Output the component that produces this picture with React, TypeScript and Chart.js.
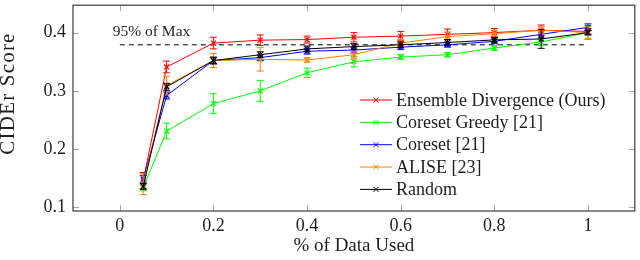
import React, { useEffect, useRef } from "react";
import { Chart, registerables } from "chart.js";

Chart.register(...registerables);

const fractions = [0.05, 0.1, 0.2, 0.3, 0.4, 0.5, 0.6, 0.7, 0.8, 0.9, 1.0];

const seriesNames = [
  "Ensemble Divergence (Ours)",
  "Coreset Greedy [21]",
  "Coreset [21]",
  "ALISE [23]",
  "Random",
];
const seriesColors = ["#ff0000", "#00ff00", "#0000ff", "#ff8000", "#000000"];

const ensembleDivergence = [0.146, 0.341, 0.382, 0.387, 0.388, 0.392, 0.394, 0.397, 0.4, 0.404, 0.402];
const ensembleDivergenceErr = [0.014, 0.01, 0.01, 0.009, 0.006, 0.008, 0.008, 0.009, 0.007, 0.009, 0.005];

const coresetGreedy = [0.1335, 0.231, 0.278, 0.3, 0.331, 0.35, 0.358, 0.362, 0.3735, 0.384, 0.4];
const coresetGreedyErr = [0.005, 0.0135, 0.017, 0.018, 0.008, 0.009, 0.004, 0.004, 0.004, 0.006, 0.012];

const coreset = [0.149, 0.292, 0.352, 0.357, 0.368, 0.37, 0.375, 0.379, 0.385, 0.397, 0.409];
const coresetErr = [0.006, 0.006, 0.005, 0.005, 0.005, 0.005, 0.004, 0.004, 0.004, 0.006, 0.006];

const alise = [0.14, 0.309, 0.352, 0.354, 0.353, 0.362, 0.382, 0.393, 0.398, 0.404, 0.4];
const aliseErr = [0.018, 0.016, 0.012, 0.02, 0.004, 0.006, 0.006, 0.008, 0.006, 0.006, 0.01];

const random = [0.136, 0.307, 0.352, 0.362, 0.372, 0.376, 0.379, 0.383, 0.3875, 0.389, 0.4];
const randomErr = [0.005, 0.006, 0.006, 0.005, 0.005, 0.005, 0.005, 0.005, 0.004, 0.016, 0.004];

const seriesValues = [ensembleDivergence, coresetGreedy, coreset, alise, random];
const seriesErrors = [ensembleDivergenceErr, coresetGreedyErr, coresetErr, aliseErr, randomErr];

const maxLineValue = 0.379;
const maxLineRange = [0, 1];
const maxLineLabel = "95% of Max";

const xTicks = [0, 0.2, 0.4, 0.6, 0.8, 1];
const yTicks = [0.1, 0.2, 0.3, 0.4];
const xTitle = "% of Data Used";
const yTitle = "CIDEr Score";

const FONT = "'Liberation Serif', 'DejaVu Serif', serif";
const TEXT = "#1e1e1e";

const fmt = (v: number) => String(Math.round(v * 10) / 10);

const drawCross = (ctx: CanvasRenderingContext2D, x: number, y: number, r: number) => {
  ctx.beginPath();
  ctx.moveTo(x - r, y - r);
  ctx.lineTo(x + r, y + r);
  ctx.moveTo(x - r, y + r);
  ctx.lineTo(x + r, y - r);
  ctx.stroke();
};

const overlay = {
  id: "overlay",
  afterDatasetDraw(chart: any, args: any) {
    const ds = chart.data.datasets[args.index];
    if (!ds.errors) return;
    const { ctx, scales } = chart;
    const x = scales.x;
    const y = scales.y;
    ctx.save();
    ctx.strokeStyle = ds.borderColor;
    ctx.lineWidth = 1;
    ds.data.forEach((p: any, j: number) => {
      const e = ds.errors[j];
      const px = x.getPixelForValue(p.x);
      const y1 = y.getPixelForValue(p.y + e);
      const y2 = y.getPixelForValue(p.y - e);
      ctx.beginPath();
      ctx.moveTo(px, y1);
      ctx.lineTo(px, y2);
      ctx.moveTo(px - 3.5, y1);
      ctx.lineTo(px + 3.5, y1);
      ctx.moveTo(px - 3.5, y2);
      ctx.lineTo(px + 3.5, y2);
      ctx.stroke();
    });
    ctx.restore();
  },
  afterDraw(chart: any) {
    const { ctx, chartArea, scales } = chart;
    const { left, right, top, bottom } = chartArea;
    const x = scales.x;
    const y = scales.y;
    ctx.save();
    // inner tick marks
    ctx.strokeStyle = "#a8a8a8";
    ctx.lineWidth = 1;
    const tl = 6;
    xTicks.forEach((v) => {
      const px = Math.round(x.getPixelForValue(v)) + 0.5;
      ctx.beginPath();
      ctx.moveTo(px, bottom);
      ctx.lineTo(px, bottom - tl);
      ctx.moveTo(px, top);
      ctx.lineTo(px, top + tl);
      ctx.stroke();
    });
    yTicks.forEach((v) => {
      const py = Math.round(y.getPixelForValue(v)) + 0.5;
      ctx.beginPath();
      ctx.moveTo(left, py);
      ctx.lineTo(left + tl, py);
      ctx.moveTo(right, py);
      ctx.lineTo(right - tl, py);
      ctx.stroke();
    });
    // frame
    ctx.strokeStyle = "#3a3a3a";
    ctx.lineWidth = 1.2;
    ctx.strokeRect(left, top, right - left, bottom - top);

    // 95% label
    ctx.fillStyle = TEXT;
    ctx.font = `15.5px ${FONT}`;
    ctx.textAlign = "left";
    ctx.textBaseline = "middle";
    ctx.fillText(maxLineLabel, x.getPixelForValue(-0.015), y.getPixelForValue(0.4017));

    // legend
    ctx.font = `18px ${FONT}`;
    seriesNames.forEach((name, i) => {
      const ly = 100 + i * 22.35;
      ctx.strokeStyle = seriesColors[i];
      ctx.lineWidth = 1;
      ctx.beginPath();
      ctx.moveTo(360, ly);
      ctx.lineTo(392, ly);
      ctx.stroke();
      drawCross(ctx, 376, ly, 2.5);
      ctx.fillStyle = TEXT;
      ctx.fillText(name, 396, ly + 1);
    });

    // y title
    ctx.save();
    ctx.translate(8.5, 93.5);
    ctx.rotate(-Math.PI / 2);
    ctx.font = `21px ${FONT}`;
    (ctx as any).letterSpacing = "1.2px";
    ctx.textAlign = "center";
    ctx.textBaseline = "middle";
    ctx.fillText(yTitle, 0, 0);
    ctx.restore();
    ctx.restore();
  },
};

export default function App() {
  const ref = useRef<HTMLCanvasElement>(null);
  useEffect(() => {
    if (!ref.current) return;
    const datasets: any[] = seriesNames.map((name, i) => ({
      label: name,
      data: fractions.map((f, j) => ({ x: f, y: seriesValues[i][j] })),
      errors: seriesErrors[i],
      borderColor: seriesColors[i],
      backgroundColor: seriesColors[i],
      borderWidth: 1,
      pointStyle: "crossRot",
      pointRadius: 3.5,
      pointBorderWidth: 1.2,
      tension: 0,
      fill: false,
      order: 5 - i,
    }));
    datasets.push({
      label: "max",
      data: maxLineRange.map((v) => ({ x: v, y: maxLineValue })),
      borderColor: "#000000",
      borderWidth: 1,
      borderDash: [5, 4],
      pointRadius: 0,
      fill: false,
      order: 10,
    });
    const chart = new Chart(ref.current, {
      type: "line",
      data: { datasets },
      options: {
        animation: false,
        responsive: false,
        maintainAspectRatio: false,
        devicePixelRatio: 1,
        layout: { padding: { top: 1.5, right: 2, left: 0, bottom: 0 } },
        plugins: { legend: { display: false }, tooltip: { enabled: false } },
        scales: {
          x: {
            type: "linear",
            min: -0.1,
            max: 1.1,
            afterBuildTicks: (s: any) => {
              s.ticks = xTicks.map((v) => ({ value: v }));
            },
            afterFit: (s: any) => {
              s.height = 49;
              s.paddingLeft = 0;
              s.paddingRight = 0;
            },
            grid: { display: false, drawTicks: false },
            border: { display: false },
            ticks: {
              padding: 4,
              color: TEXT,
              font: { family: FONT, size: 18 },
              maxRotation: 0,
              autoSkip: false,
              callback: (v: any) => fmt(Number(v)),
            },
            title: {
              display: true,
              text: xTitle,
              color: TEXT,
              font: { family: FONT, size: 19 },
              padding: { top: 0, bottom: 3 },
            },
          },
          y: {
            type: "linear",
            min: 0.0938,
            max: 0.447,
            afterBuildTicks: (s: any) => {
              s.ticks = yTicks.map((v) => ({ value: v }));
            },
            afterFit: (s: any) => {
              s.width = 73;
              s.paddingTop = 0;
              s.paddingBottom = 0;
            },
            grid: { display: false, drawTicks: false },
            border: { display: false },
            ticks: {
              padding: 7,
              color: TEXT,
              font: { family: FONT, size: 18 },
              autoSkip: false,
              callback: (v: any) => fmt(Number(v)),
            },
          },
        },
      },
      plugins: [overlay],
    } as any);
    return () => chart.destroy();
  }, []);
  return (
    <div style={{ position: "fixed", left: 0, top: 0, width: 640, height: 260, background: "#fff" }}>
      <canvas ref={ref} width={640} height={260} style={{ width: 640, height: 260, display: "block" }} />
    </div>
  );
}
